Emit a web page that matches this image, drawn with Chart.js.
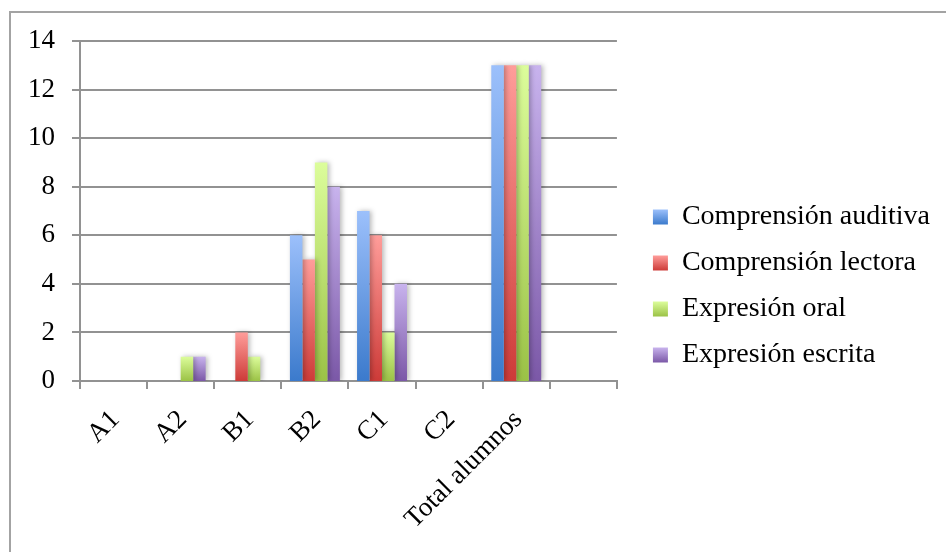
<!DOCTYPE html>
<html lang="es">
<head>
<meta charset="utf-8">
<title>Nivel de competencia por destreza</title>
<script src="https://cdn.jsdelivr.net/npm/chart.js@4.4.1/dist/chart.umd.min.js"></script>
<style>
  html, body { margin: 0; padding: 0; background: #ffffff; }
  #wrap { position: relative; width: 946px; height: 552px; overflow: hidden; }
  #frame {
    position: absolute; left: 9px; top: 11px; right: -10px; bottom: -10px;
    border-top: 2px solid #a3a3a3; border-left: 2px solid #a3a3a3;
    pointer-events: none;
  }
  canvas { position: absolute; left: 0; top: 0; }
</style>
</head>
<body>
<div id="wrap">
  <canvas id="chart" width="946" height="552"></canvas>
  <div id="frame"></div>
</div>
<script>
// Levels (the last slot is an empty category, as in the original sheet)
const categories = ['A1', 'A2', 'B1', 'B2', 'C1', 'C2', 'Total alumnos', ''];

// Number of students per level for each skill
const comprensionAuditiva = [0, 0, 0, 6, 7, 0, 13, null];
const comprensionLectora  = [0, 0, 2, 5, 6, 0, 13, null];
const expresionOral       = [0, 1, 1, 9, 2, 0, 13, null];
const expresionEscrita    = [0, 1, 0, 8, 4, 0, 13, null];

const seriesNames = ['Comprensión auditiva', 'Comprensión lectora', 'Expresión oral', 'Expresión escrita'];

// light (top) / dark (bottom) tones for each series
const tones = [
  ['#9cc0fb', '#3b7acc'],
  ['#ff9d9a', '#cd3b38'],
  ['#dcfd9b', '#9bc246'],
  ['#c8b3ed', '#7b58a7']
];

const FONT = { family: '"Liberation Serif", "Times New Roman", serif', size: 27 };
const LEGEND_FONT = { family: '"Liberation Serif", "Times New Roman", serif', size: 28 };
const GRID = '#929292';

// Vertical gradient spanning each bar from its top to the baseline
function barFill(light, dark) {
  return (ctx) => {
    const chart = ctx.chart;
    if (ctx.type !== 'data' || !chart.chartArea || !ctx.parsed) return dark;
    const y = chart.scales.y;
    const top = y.getPixelForValue(ctx.parsed.y);
    const base = y.getPixelForValue(0);
    if (!(base - top > 0.5)) return dark;
    const g = chart.ctx.createLinearGradient(0, top, 0, base);
    g.addColorStop(0, light);
    g.addColorStop(1, dark);
    return g;
  };
}

// Soft drop shadow behind the bars
const barShadow = {
  id: 'barShadow',
  beforeDatasetsDraw(chart) {
    const c = chart.ctx;
    c.save();
    c.shadowColor = 'rgba(0,0,0,0.28)';
    c.shadowBlur = 5;
    c.shadowOffsetX = 2;
    c.shadowOffsetY = 0;
  },
  afterDatasetsDraw(chart) {
    chart.ctx.restore();
  }
};

// Give the legend swatches the same top-to-bottom gradient as the bars
const legendGradient = {
  id: 'legendGradient',
  afterUpdate(chart) {
    const lg = chart.legend;
    if (!lg || !lg.legendItems || !lg.legendHitBoxes) return;
    lg.legendItems.forEach((item, i) => {
      const hb = lg.legendHitBoxes[i];
      const t = tones[item.datasetIndex];
      if (!hb || !t) return;
      const top = hb.top + (hb.height - 15) / 2;
      const g = chart.ctx.createLinearGradient(0, top, 0, top + 15);
      g.addColorStop(0, t[0]);
      g.addColorStop(1, t[1]);
      item.fillStyle = g;
      item.lineWidth = 0;
      item.strokeStyle = 'rgba(0,0,0,0)';
    });
  }
};

const seriesValues = [comprensionAuditiva, comprensionLectora, expresionOral, expresionEscrita];

const datasets = seriesValues.map((vals, i) => ({
  label: seriesNames[i],
  data: vals,
  backgroundColor: barFill(tones[i][0], tones[i][1]),
  borderWidth: 0,
  barPercentage: 1.0,
  categoryPercentage: 0.744
}));

new Chart(document.getElementById('chart'), {
  type: 'bar',
  data: { labels: categories, datasets },
  options: {
    responsive: false,
    devicePixelRatio: 1,
    animation: false,
    layout: { padding: { top: 20, bottom: 0, left: 0, right: 6 } },
    plugins: {
      legend: {
        position: 'right',
        align: 'center',
        maxWidth: 400,
        labels: {
          color: '#000',
          font: LEGEND_FONT,
          boxWidth: 15,
          boxHeight: 15,
          padding: 18
        }
      },
      tooltip: { enabled: false }
    },
    scales: {
      x: {
        type: 'category',
        offset: true,
        grid: {
          display: true,
          offset: true,
          drawOnChartArea: false,
          drawTicks: true,
          tickLength: 8,
          color: GRID,
          lineWidth: 2
        },
        border: { display: true, color: GRID, width: 2 },
        ticks: {
          color: '#000',
          font: FONT,
          minRotation: 45,
          maxRotation: 45,
          autoSkip: false,
          padding: 15,
          labelOffset: 2
        },
        afterFit(s) { s.height = 171; }
      },
      xTop: {
        type: 'category',
        position: 'top',
        labels: categories,
        grid: { display: false },
        border: { display: false },
        ticks: { display: false },
        afterFit(s) { s.height = 21; }
      },
      yGap: {
        type: 'linear',
        position: 'right',
        grid: { display: false },
        border: { display: false },
        ticks: { display: false },
        afterFit(s) { s.width = 18; }
      },
      y: {
        min: 0,
        max: 14,
        ticks: {
          stepSize: 2,
          color: '#000',
          font: FONT,
          padding: 17
        },
        grid: {
          color: GRID,
          lineWidth: 2,
          tickLength: 8,
          drawTicks: true
        },
        border: { display: true, color: GRID, width: 2 },
        afterFit(s) { s.width = 80; }
      }
    }
  },
  plugins: [barShadow, legendGradient]
});
</script>
</body>
</html>
